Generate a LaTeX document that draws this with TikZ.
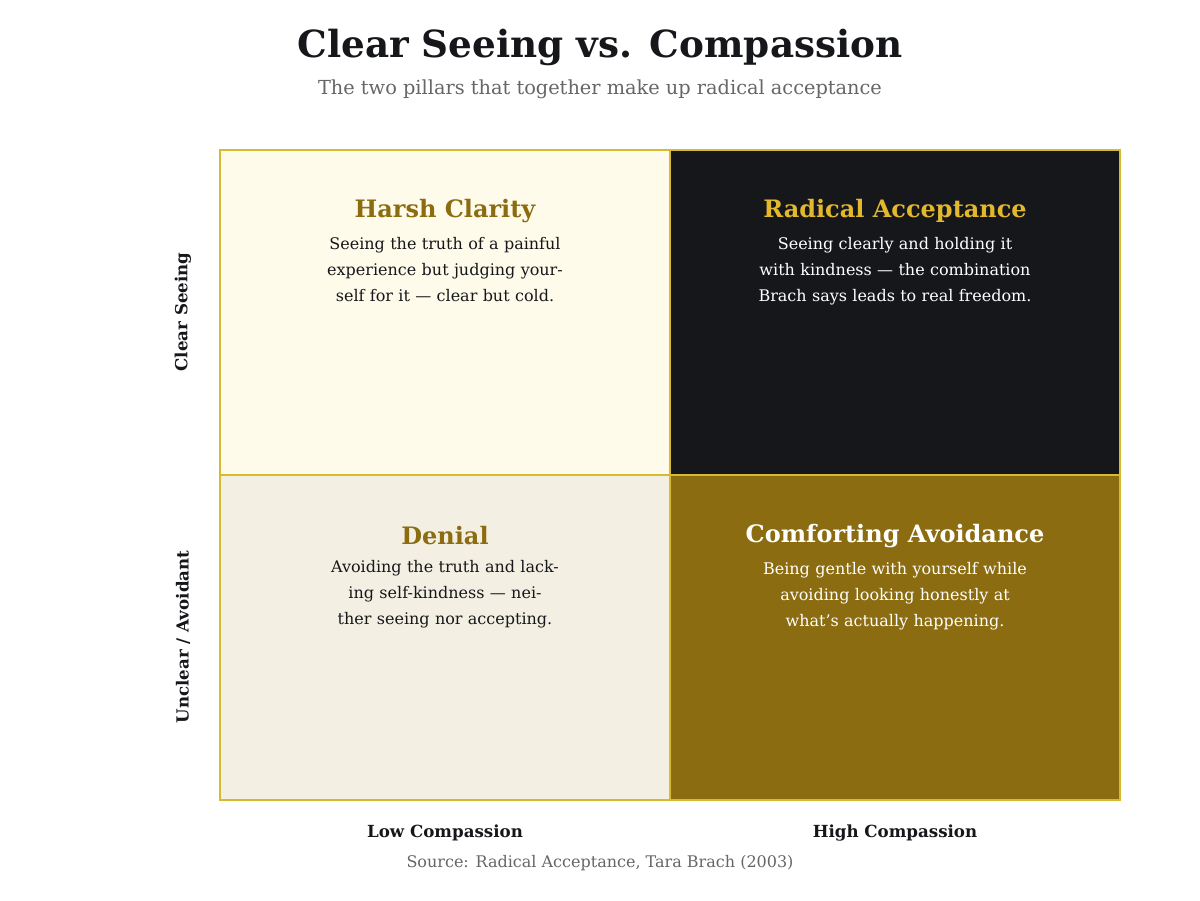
\documentclass[tikz,border=0pt]{standalone}
\usepackage{fontspec}
\setmainfont{DejaVu Serif}
\usetikzlibrary{positioning}
\definecolor{gold}{HTML}{8B6C10}
\definecolor{brightgold}{HTML}{E2B82C}
\definecolor{edgegold}{HTML}{D8BA30}
\definecolor{cream}{HTML}{FFFBEB}
\definecolor{beige}{HTML}{F3F0E3}
\definecolor{ink}{HTML}{16171B}
\definecolor{greytext}{HTML}{666666}
\tikzset{
  cell/.style={draw=edgegold, line width=1.5pt},
  head/.style={font=\fontsize{18}{22}\selectfont\bfseries},
  body/.style={font=\fontsize{12}{19.5}\selectfont, align=center, text width=225pt},
  axis/.style={font=\fontsize{12.5}{15}\selectfont\bfseries, text=ink},
}
\begin{document}
\begin{tikzpicture}[x=0.75pt, y=-0.75pt]
    \useasboundingbox[fill=white] (0,0) rectangle (1200,900);
    % title
    \node[font=\fontsize{28}{32}\selectfont\bfseries, text=ink] (title) at (600,47) {Clear Seeing vs. Compassion};
    \node[font=\fontsize{14.5}{18}\selectfont, text=greytext] (subtitle) at (600,89) {The two pillars that together make up radical acceptance};

    % quadrants
    \filldraw[cell, fill=cream] (220,150) rectangle (670,475);
    \filldraw[cell, fill=ink] (670,150) rectangle (1120,475);
    \filldraw[cell, fill=beige] (220,475) rectangle (670,800);
    \filldraw[cell, fill=gold] (670,475) rectangle (1120,800);

    \node[head, text=gold] (harsh) at (445,211) {Harsh Clarity};
    \node[body, text=ink, below=4pt of harsh] (harshtext) {Seeing the truth of a painful experience but judging yourself for it — clear but cold.};

    \node[head, text=brightgold] (radical) at (895,211) {Radical Acceptance};
    \node[body, text=white, below=4pt of radical] (radicaltext) {Seeing clearly and holding it with kindness — the combination Brach says leads to real freedom.};

    \node[head, text=gold] (denial) at (445,536) {Denial};
    \node[body, text=ink, below=4pt of denial] (denialtext) {Avoiding the truth and lacking self-kindness — neither seeing nor accepting.};

    \node[head, text=white] (comfort) at (895,536) {Comforting Avoidance};
    \node[body, text=white, below=4pt of comfort] (comforttext) {Being gentle with yourself while avoiding looking honestly at what's actually happening.};

    % axes
    \node[axis, rotate=90] (clear) at (183,312) {Clear Seeing};
    \node[axis, rotate=90] (unclear) at (183,637) {Unclear / Avoidant};
    \node[axis] (low) at (445,833) {Low Compassion};
    \node[axis] (high) at (895,833) {High Compassion};

    \node[font=\fontsize{12}{14}\selectfont, text=greytext] (source) at (600,863) {Source: Radical Acceptance, Tara Brach (2003)};
\end{tikzpicture}
\end{document}
